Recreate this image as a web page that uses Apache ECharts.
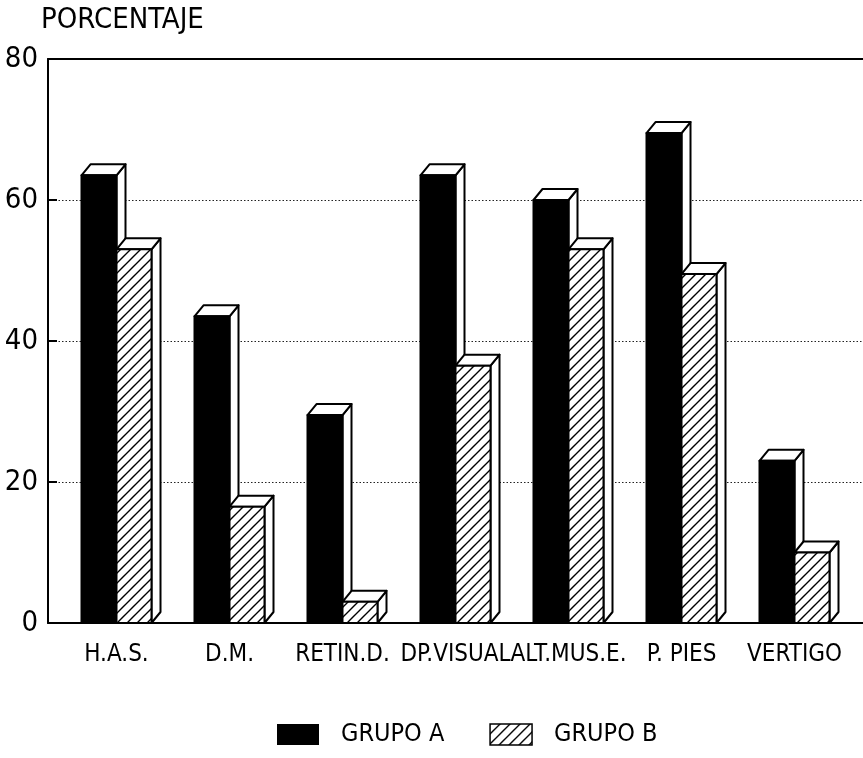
<!DOCTYPE html>
<html>
<head>
<meta charset="utf-8">
<script src="https://cdn.jsdelivr.net/npm/echarts@6/dist/echarts.min.js"></script>
<style>
  html, body { margin: 0; padding: 0; background: #fff; }
  #chart { width: 863px; height: 758px; }
</style>
</head>
<body>
<div id="chart"></div>
<script>
// Categories and percentages per group
const categories = ['H.A.S.', 'D.M.', 'RETIN.D.', 'DP.VISUAL', 'ALT.MUS.E.', 'P. PIES', 'VERTIGO'];
const grupoA = [63.5, 43.5, 29.5, 63.5, 60, 69.5, 23];
const grupoB = [53, 16.5, 3, 36.5, 53, 49.5, 10];
const seriesNames = ['GRUPO A', 'GRUPO B'];
const yTicks = [0, 20, 40, 60, 80];

const FONT = "'Liberation Sans Narrow', 'DejaVu Sans Condensed', sans-serif";
const BAR_W = 35;   // front face width
const DEPTH_X = 9;  // 3D offset
const DEPTH_Y = 11;

// Diagonal hatch tile for the second group
function makeHatch() {
  const s = 10;
  const cv = document.createElement('canvas');
  cv.width = s; cv.height = s;
  const g = cv.getContext('2d');
  g.fillStyle = '#fff';
  g.fillRect(0, 0, s, s);
  g.strokeStyle = '#000';
  g.lineWidth = 1.4;
  g.beginPath();
  g.moveTo(-1, s + 1); g.lineTo(s + 1, -1);
  g.moveTo(-1, 1); g.lineTo(1, -1);
  g.moveTo(s - 1, s + 1); g.lineTo(s + 1, s - 1);
  g.stroke();
  return cv;
}
const hatchFill = { image: makeHatch(), repeat: 'repeat' };

function bar3d(groupIndex, fill) {
  return function (params, api) {
    const idx = api.value(0);
    const val = api.value(1);
    const topPt = api.coord([idx, val]);
    const basePt = api.coord([idx, 0]);
    const cx = topPt[0];
    const x0 = groupIndex === 0 ? cx - BAR_W : cx;
    const top = topPt[1];
    const base = basePt[1];
    const stroke = { stroke: '#000', lineWidth: 2, lineJoin: 'round' };
    return {
      type: 'group',
      children: [
        {
          type: 'polygon',
          shape: { points: [[x0 + BAR_W, top], [x0 + BAR_W + DEPTH_X, top - DEPTH_Y],
                            [x0 + BAR_W + DEPTH_X, base - DEPTH_Y], [x0 + BAR_W, base]] },
          style: Object.assign({ fill: '#fff' }, stroke)
        },
        {
          type: 'polygon',
          shape: { points: [[x0, top], [x0 + DEPTH_X, top - DEPTH_Y],
                            [x0 + BAR_W + DEPTH_X, top - DEPTH_Y], [x0 + BAR_W, top]] },
          style: Object.assign({ fill: '#fff' }, stroke)
        },
        {
          type: 'rect',
          shape: { x: x0, y: top, width: BAR_W, height: base - top },
          style: Object.assign({ fill: fill }, stroke)
        }
      ]
    };
  };
}

const chart = echarts.init(document.getElementById('chart'), null, { renderer: 'canvas' });

const gridTop = 59;
const gridBottom = 135;

chart.setOption({
  backgroundColor: '#fff',
  animation: false,
  title: {
    text: 'PORCENTAJE',
    left: 41,
    top: 6,
    padding: 0,
    textStyle: { fontFamily: FONT, fontSize: 29, fontWeight: 'normal', color: '#000' }
  },
  legend: {
    data: [
      { name: seriesNames[0], itemStyle: { color: '#000' } },
      { name: seriesNames[1], itemStyle: { color: hatchFill, borderColor: '#000', borderWidth: 1.5 } }
    ],
    icon: 'rect',
    left: 277,
    top: 722,
    itemWidth: 42,
    itemHeight: 21,
    itemGap: 45,
    padding: 0,
    selectedMode: false,
    textStyle: { fontFamily: FONT, fontSize: 25, color: '#000', padding: [0, 0, 0, 17] }
  },
  grid: [
    { left: 48, right: 0, top: gridTop, bottom: gridBottom },
    { left: 60, right: 12, top: gridTop, bottom: gridBottom }
  ],
  xAxis: [
    {
      gridIndex: 0, type: 'value', min: 0, max: 1, position: 'bottom',
      axisLine: { show: true, lineStyle: { color: '#000', width: 2 } },
      axisTick: { show: false }, axisLabel: { show: false }, splitLine: { show: false }
    },
    {
      gridIndex: 0, type: 'value', min: 0, max: 1, position: 'top',
      axisLine: { show: true, lineStyle: { color: '#000', width: 2 } },
      axisTick: { show: false }, axisLabel: { show: false }, splitLine: { show: false }
    },
    {
      gridIndex: 1, type: 'category', data: categories,
      axisLine: { show: false }, axisTick: { show: false },
      axisLabel: { fontFamily: FONT, fontSize: 24, color: '#000', margin: 20, interval: 0 }
    }
  ],
  yAxis: [
    {
      gridIndex: 0, type: 'value', min: yTicks[0], max: yTicks[yTicks.length - 1], interval: 20,
      axisLine: { show: true, lineStyle: { color: '#000', width: 2 } },
      axisTick: { show: true, inside: true, length: 9, lineStyle: { color: '#000', width: 2 } },
      axisLabel: { fontFamily: FONT, fontSize: 29, color: '#000', margin: 10 },
      splitLine: { show: true, lineStyle: { color: '#222', width: 1, type: [1.5, 2] } }
    },
    {
      gridIndex: 1, type: 'value', min: yTicks[0], max: yTicks[yTicks.length - 1], show: false
    }
  ],
  series: [
    {
      name: seriesNames[0], type: 'custom', xAxisIndex: 2, yAxisIndex: 1,
      itemStyle: { color: '#000' },
      renderItem: bar3d(0, '#000'),
      data: grupoA.map((v, i) => [i, v])
    },
    {
      name: seriesNames[1], type: 'custom', xAxisIndex: 2, yAxisIndex: 1,
      itemStyle: { color: hatchFill, borderColor: '#000', borderWidth: 1.5 },
      renderItem: bar3d(1, hatchFill),
      data: grupoB.map((v, i) => [i, v])
    }
  ]
});
</script>
</body>
</html>
